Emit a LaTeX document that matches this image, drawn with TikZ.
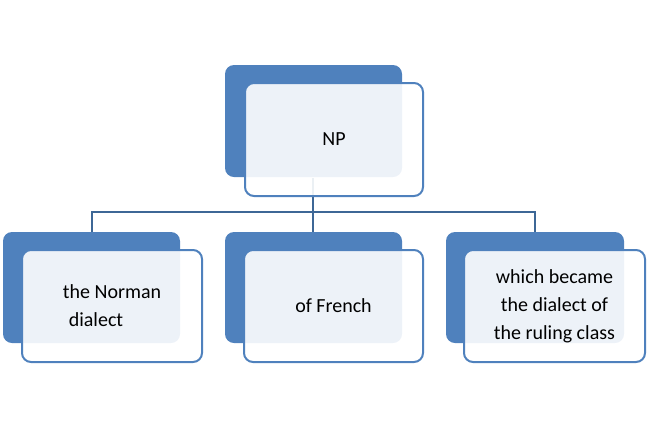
\documentclass[tikz,border=0pt]{standalone}
\usepackage{fontspec}
\setmainfont{Carlito}
\definecolor{bb}{HTML}{4F81BD}
\definecolor{ln}{HTML}{3D6796}
\begin{document}
\begin{tikzpicture}[x=1pt,y=-1pt,
  back/.style={fill=bb,draw=none,rounded corners=9pt},
  front/.style={fill=white,fill opacity=0.9,text opacity=1,draw=bb,line width=2pt,rounded corners=9pt,align=center,font=\fontsize{20}{28}\selectfont},
  conn/.style={draw=ln,line width=2pt}]
\useasboundingbox (0,0) rectangle (650,429);
\fill[back] (225,65) rectangle (402,177);
\fill[back] (3,232) rectangle (180,343);
\fill[back] (225,232) rectangle (402,343);
\fill[back] (446,232) rectangle (624,343);
\draw[conn] (313,178) -- (313,212) coordinate (m);
\coordinate (l) at (92,212); \coordinate (r) at (535,212);
\draw[conn] (92,232) -- (l) -- (r) -- (535,232);
\draw[conn] (313,212) -- (313,232);
\node[front,minimum width=178pt,minimum height=113pt] (np) at (334,139.5) {NP};
\node[front,minimum width=180pt,minimum height=112pt] (a) at (112,306) {the Norman\\dialect\phantom{mm}};
\node[front,minimum width=179pt,minimum height=112pt] (b) at (333.5,306) {of French};
\node[front,minimum width=181pt,minimum height=112pt] (c) at (554.5,306) {which became\\the dialect of\\the ruling class};
\end{tikzpicture}
\end{document}
